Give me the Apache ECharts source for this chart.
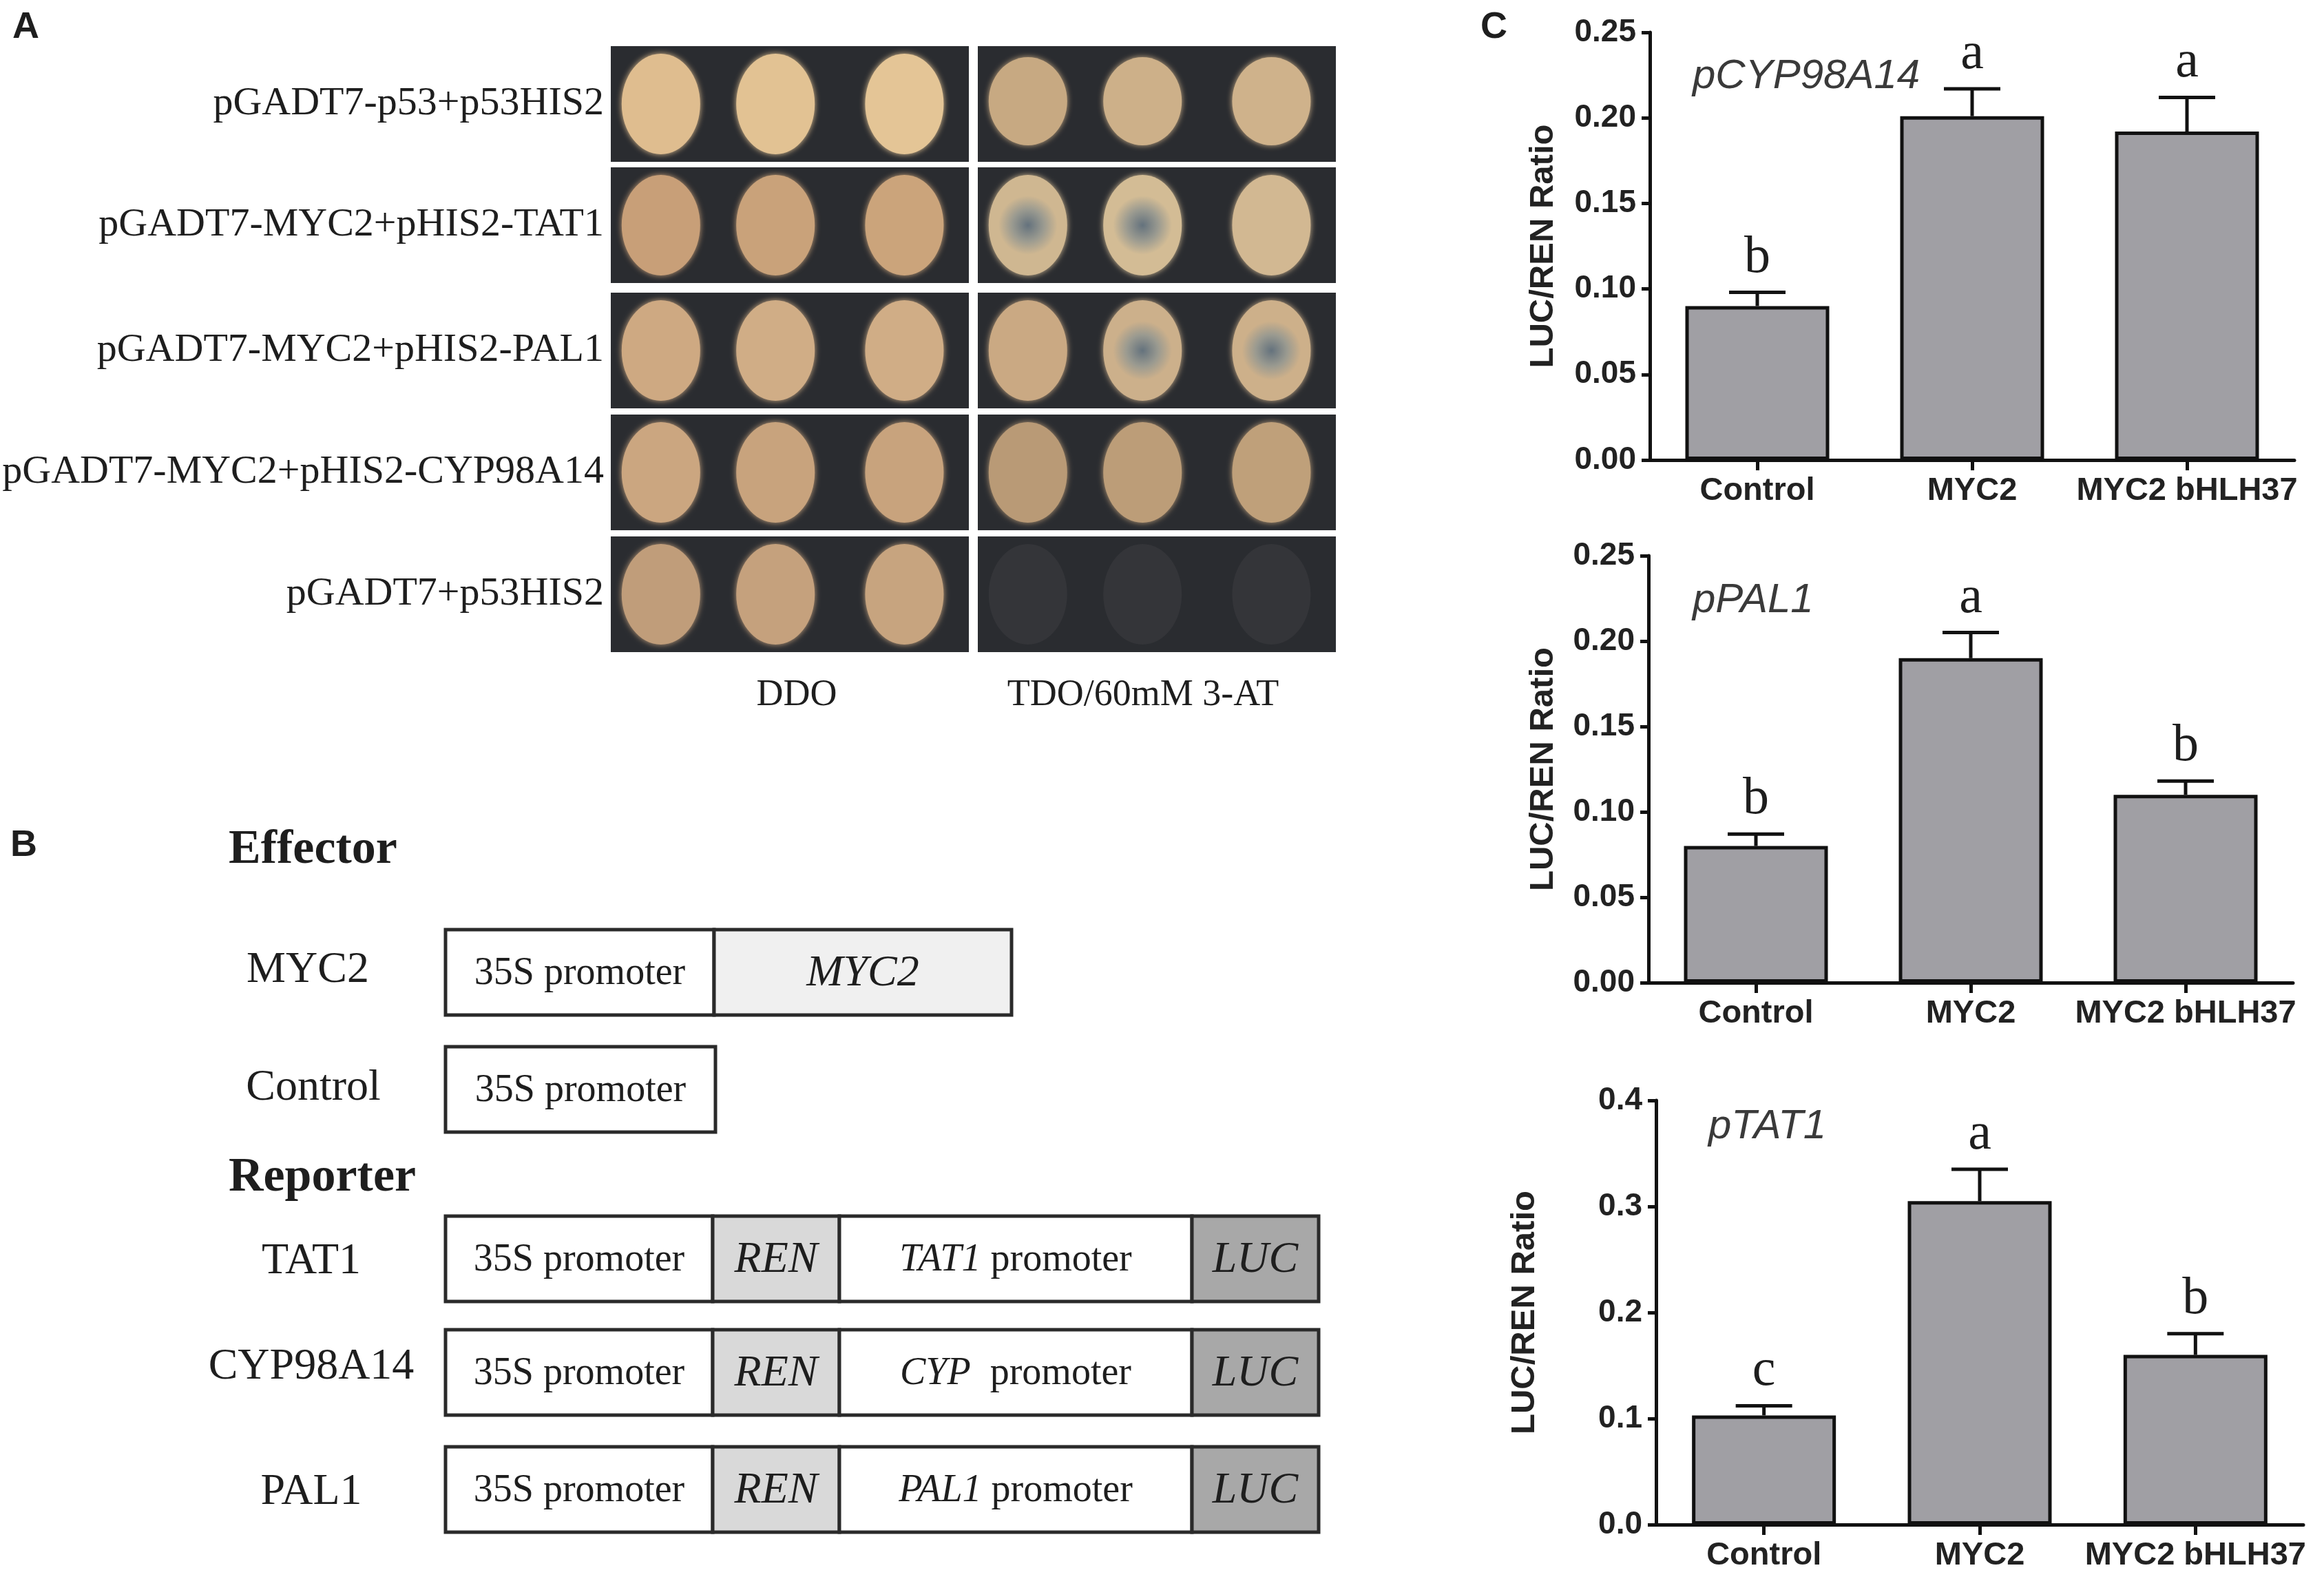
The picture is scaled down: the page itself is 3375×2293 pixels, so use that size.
<!DOCTYPE html>
<html>
<head>
<meta charset="utf-8">
<script src="https://cdn.jsdelivr.net/npm/echarts@6/dist/echarts.min.js"></script>
<style>
  html, body { margin: 0; padding: 0; background: #fff; }
  #main { width: 3375px; height: 2293px; }
</style>
</head>
<body>
<div id="main"></div>
<script>
// ---- data ----
var categories = ['Control', 'MYC2', 'MYC2 bHLH37'];

var cypMeans = [0.090, 0.201, 0.192];
var cypErrs = [0.008, 0.016, 0.020];
var cypLetters = ['b', 'a', 'a'];

var palMeans = [0.080, 0.190, 0.110];
var palErrs = [0.007, 0.015, 0.008];
var palLetters = ['b', 'a', 'b'];

var tatMeans = [0.103, 0.305, 0.160];
var tatErrs = [0.009, 0.030, 0.020];
var tatLetters = ['c', 'a', 'b'];

var promoterTitles = ['pCYP98A14', 'pPAL1', 'pTAT1'];
var yMaxes = [0.25, 0.25, 0.4];
var ySteps = [0.05, 0.05, 0.1];

// panel A: yeast spots
var spotRows = ['pGADT7-p53+p53HIS2', 'pGADT7-MYC2+pHIS2-TAT1', 'pGADT7-MYC2+pHIS2-PAL1',
                'pGADT7-MYC2+pHIS2-CYP98A14', 'pGADT7+p53HIS2'];
var mediaNames = ['DDO', 'TDO/60mM 3-AT'];
var ddoTones = [['#dfbd8f', '#e2c293', '#e4c596'],
                ['#c89f78', '#c9a27a', '#cba47b'],
                ['#cea982', '#d0ad86', '#d0ad86'],
                ['#cba680', '#c8a37d', '#c8a37d'],
                ['#c09d7a', '#c5a17d', '#c7a47f']];
var tdoTones = [['#c7a982', '#cdb089', '#cfb28b'],
                ['#cfb791', '#d3bc95', '#d2b892'],
                ['#caa983', '#ccb08b', '#cdb08a'],
                ['#b99a76', '#bc9d78', '#bfa07a'],
                ['#343539', '#343539', '#343539']];
var tdoBlue = [[0, 0, 0], [1, 1, 0], [0, 1, 1], [0, 0, 0], [0, 0, 0]];

// panel B: constructs
var effectorNames = ['MYC2', 'Control'];
var reporterNames = ['TAT1', 'CYP98A14', 'PAL1'];
var reporterGenes = ['TAT1', 'CYP', 'PAL1'];
var reporterGaps = ['', ' ', ''];

// ---- layout ----
var SERIF = '"Liberation Serif", "Times New Roman", serif';
var SANS = '"Liberation Sans", Arial, sans-serif';
var INK = '#1e1e1e';

var chart = echarts.init(document.getElementById('main'));
var graphics = [];

function txt(x, y, text, size, opts) {
  opts = opts || {};
  graphics.push({
    type: 'text', x: x, y: y, z: 10,
    style: {
      text: text, fill: opts.fill || INK,
      fontSize: size, fontFamily: opts.family || SERIF,
      fontWeight: opts.weight || 'normal', fontStyle: opts.style || 'normal',
      align: opts.align || 'center', verticalAlign: 'middle',
      rich: opts.rich
    }
  });
}

// panel letters
txt(18, 40, 'A', 54, {family: SANS, weight: 'bold', align: 'left'});
txt(15, 1228, 'B', 54, {family: SANS, weight: 'bold', align: 'left'});
txt(2150, 40, 'C', 54, {family: SANS, weight: 'bold', align: 'left'});

// panel A plates
var plateLeft = [887, 1420], plateWidth = 520;
var rowTop = [67, 243, 425, 602, 779], rowHeight = 168;
var colPos = [0.14, 0.46, 0.82];
spotRows.forEach(function (label, r) {
  var cy = rowTop[r] + rowHeight / 2;
  txt(877, cy, label, 58, {align: 'right'});
  [ddoTones, tdoTones].forEach(function (tones, p) {
    graphics.push({
      type: 'rect', shape: {x: plateLeft[p], y: rowTop[r], width: plateWidth, height: rowHeight},
      style: {fill: '#2a2c30'}
    });
    for (var c = 0; c < 3; c++) {
      var tone = tones[r][c];
      var fill = tone;
      if (p === 1 && tdoBlue[r][c]) {
        fill = {type: 'radial', x: 0.5, y: 0.5, r: 0.5, colorStops: [
          {offset: 0, color: '#64727d'}, {offset: 0.4, color: '#9a9a90'},
          {offset: 0.75, color: tone}, {offset: 1, color: tone}]};
      }
      graphics.push({
        type: 'ellipse',
        shape: {cx: plateLeft[p] + plateWidth * colPos[c], cy: cy + (p === 1 && r === 0 ? -4 : 0),
                rx: 57, ry: p === 1 && r === 0 ? 64 : 73},
        style: {fill: fill, shadowBlur: 8, shadowColor: r === 4 && p === 1 ? 'rgba(0,0,0,0)' : tone}
      });
    }
  });
});
txt(1157, 1010, mediaNames[0], 54);
txt(1660, 1010, mediaNames[1], 54);

// panel B constructs
txt(332, 1235, 'Effector', 70, {weight: 'bold', align: 'left'});
txt(332, 1711, 'Reporter', 70, {weight: 'bold', align: 'left'});
var boxH = 124;
function part(x0, x1, y0, fill, label, rich) {
  graphics.push({
    type: 'rect', shape: {x: x0, y: y0, width: x1 - x0, height: boxH},
    style: {fill: fill, stroke: '#2a2a2a', lineWidth: 5}
  });
  txt((x0 + x1) / 2, y0 + boxH / 2 + 2, label, 56, {rich: rich});
}
var richParts = {
  i: {fontStyle: 'italic', fontSize: 56, fontFamily: SERIF, fill: INK},
  I: {fontStyle: 'italic', fontSize: 64, fontFamily: SERIF, fill: INK},
  n: {fontSize: 56, fontFamily: SERIF, fill: INK}
};
var effTop = [1350, 1520];
txt(447, 1409, effectorNames[0], 64);
part(647, 1037, effTop[0], '#ffffff', '35S promoter');
part(1037, 1469, effTop[0], '#f0f0f0', '{I|MYC2}', richParts);
txt(455, 1580, effectorNames[1], 64);
part(647, 1039, effTop[1], '#ffffff', '35S promoter');

var repTop = [1766, 1931, 2101];
var repLabelY = [1832, 1985, 2167];
reporterNames.forEach(function (name, k) {
  var y0 = repTop[k];
  txt(452, repLabelY[k], name, 64);
  part(647, 1035, y0, '#ffffff', '35S promoter');
  part(1035, 1219, y0, '#d9d9d9', '{I|REN}', richParts);
  part(1219, 1731, y0, '#ffffff', '{i|' + reporterGenes[k] + '}{n|' + reporterGaps[k] + ' promoter}', richParts);
  part(1731, 1915, y0, '#a8a8a8', '{I|LUC}', richParts);
});

// panel C bar charts
var grids = [
  {left: 2396, top: 47, width: 936, height: 621},
  {left: 2394, top: 807, width: 936, height: 620},
  {left: 2405, top: 1598, width: 940, height: 616}
];
var nameGaps = [130, 128, 166];
var titlePos = [[2458, 111], [2458, 872], [2481, 1636]];
var allMeans = [cypMeans, palMeans, tatMeans];
var allErrs = [cypErrs, palErrs, tatErrs];
var allLetters = [cypLetters, palLetters, tatLetters];

var xAxes = [], yAxes = [], series = [];
grids.forEach(function (g, i) {
  xAxes.push({
    type: 'category', gridIndex: i, data: categories,
    axisLine: {lineStyle: {color: '#111', width: 5}},
    axisTick: {show: true, alignWithLabel: true, length: 15, lineStyle: {color: '#111', width: 5}},
    axisLabel: {interval: 0, fontSize: 47, fontWeight: 'bold', fontFamily: SANS, color: '#222', margin: 22},
    splitLine: {show: false}
  });
  yAxes.push({
    type: 'value', gridIndex: i, min: 0, max: yMaxes[i], interval: ySteps[i],
    axisLine: {show: true, lineStyle: {color: '#111', width: 5}},
    axisTick: {show: true, length: 12, lineStyle: {color: '#111', width: 5}},
    axisLabel: {fontSize: 46, fontWeight: 'bold', fontFamily: SANS, color: '#222', margin: 20,
      formatter: function (v) { return v.toFixed(i === 2 ? 1 : 2); }},
    splitLine: {show: false},
    name: 'LUC/REN Ratio', nameLocation: 'middle', nameRotate: 90, nameGap: nameGaps[i],
    nameTextStyle: {fontSize: 49, fontWeight: 'bold', fontFamily: SANS, color: '#222'}
  });
  series.push({
    type: 'bar', xAxisIndex: i, yAxisIndex: i, data: allMeans[i], barWidth: 209,
    itemStyle: {color: '#a09fa4', borderColor: '#111', borderWidth: 5},
    silent: true, animation: false
  });
  var letters = allLetters[i];
  series.push({
    type: 'custom', xAxisIndex: i, yAxisIndex: i, animation: false, silent: true, z: 5,
    data: allMeans[i].map(function (m, k) { return [k, m, allErrs[i][k]]; }),
    renderItem: function (params, api) {
      var base = api.coord([api.value(0), api.value(1)]);
      var top = api.coord([api.value(0), api.value(1) + api.value(2)]);
      return {
        type: 'group', children: [
          {type: 'line', shape: {x1: base[0], y1: base[1], x2: top[0], y2: top[1]},
           style: {stroke: '#111', lineWidth: 5}},
          {type: 'line', shape: {x1: top[0] - 41, y1: top[1], x2: top[0] + 41, y2: top[1]},
           style: {stroke: '#111', lineWidth: 5}},
          {type: 'text', x: top[0], y: top[1] - 50,
           style: {text: letters[params.dataIndex], fontSize: 76, fontFamily: SERIF, fill: INK,
                   align: 'center', verticalAlign: 'middle'}}
        ]
      };
    }
  });
  txt(titlePos[i][0], titlePos[i][1], promoterTitles[i], 60,
      {family: SANS, style: 'italic', align: 'left', fill: '#3a3a3a'});
});

chart.setOption({
  backgroundColor: '#ffffff',
  animation: false,
  grid: grids,
  xAxis: xAxes,
  yAxis: yAxes,
  series: series,
  graphic: graphics
});
</script>
</body>
</html>
